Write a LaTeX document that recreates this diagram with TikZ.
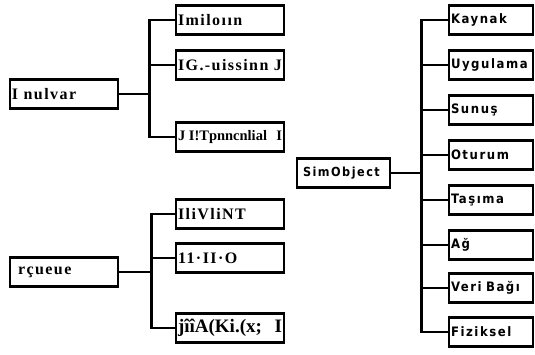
\documentclass[tikz,border=0pt]{standalone}
\usepackage{fontspec}
\setmainfont{Liberation Serif}
\newfontfamily\treefont[LetterSpace=9]{Liberation Serif}
\newfontfamily\layerfont[LetterSpace=12]{DejaVu Sans Condensed}
\newcommand\boxtext[1]{\makebox[104pt][l]{#1}}
\begin{document}
\begin{tikzpicture}[x=1pt,y=-1pt,
  box/.style={draw, line width=2.4pt, minimum height=29pt, inner xsep=2pt,
    inner ysep=0pt, font=\treefont\bfseries\fontsize{16}{18}\selectfont},
  lbox/.style={box},
  tight/.style={font=\rmfamily\bfseries\fontsize{14.5}{16}\selectfont},
  big/.style={font=\rmfamily\bfseries\fontsize{19}{21}\selectfont},
  rbox/.style={box, minimum width=84pt, text width=80pt, align=left,
    font=\layerfont\bfseries\fontsize{13}{15}\selectfont},
  conn/.style={line width=2.6pt, line join=miter}]
\useasboundingbox (0,0) rectangle (535,354);

% upper left tree
\node[lbox] (p1) at (64,94) {\boxtext{I nulvar}};
\node[lbox] (p1a) at (230,20) {\boxtext{Imiloıın}};
\node[lbox] (p1b) at (230,65) {\boxtext{IG.-uissinn\hfill J}};
\node[lbox, tight] (p1c) at (230,137) {\boxtext{J I!Tpnncnlial\hfill I}};
\foreach \c in {p1a,p1b,p1c}
  \draw[conn] (p1.east) -- ([xshift=30pt]p1.east) |- (\c.west);

% lower left tree
\node[lbox] (p2) at (64,272) {\boxtext{\hspace*{6pt}rçueue}};
\node[lbox] (p2a) at (230,214) {\boxtext{IliVliNT}};
\node[lbox] (p2b) at (230,258) {\boxtext{11·II·O}};
\node[lbox, big] (p2c) at (230,328) {\boxtext{jîîA(Ki.(x;\hfill I}};
\foreach \c in {p2a,p2b,p2c}
  \draw[conn] (p2.east) -- ([xshift=32pt]p2.east) |- (\c.west);

% right tree: SimObject and its layers
\node[box, text width=89pt, align=left, font=\layerfont\bfseries\fontsize{12.5}{14}\selectfont] (s) at (343.5,173) {\hspace*{4pt}SimObject};
\node[rbox] (l1) at (491,20) {Kaynak};
\node[rbox] (l2) at (491,65) {Uygulama};
\node[rbox] (l3) at (491,110) {Sunuş};
\node[rbox] (l4) at (491,155) {Oturum};
\node[rbox] (l5) at (491,200) {Taşıma};
\node[rbox] (l6) at (491,245) {Ağ};
\node[rbox] (l7) at (491,288) {Veri Bağı};
\node[rbox] (l8) at (491,332) {Fiziksel};
\foreach \c in {l1,l2,l3,l4,l5,l6,l7,l8}
  \draw[conn] (s.east) -- ([xshift=30pt]s.east) |- (\c.west);
\end{tikzpicture}
\end{document}
